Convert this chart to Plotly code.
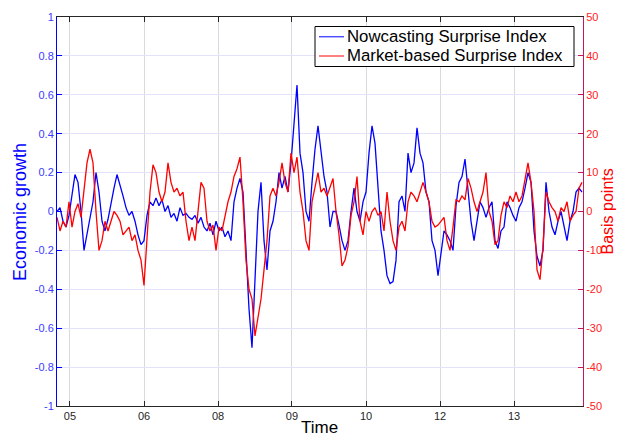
import plotly.graph_objects as go

# Nowcasting Surprise Index (economic growth units), sampled along the time axis
nowcast = [
    0.0, 0.02, -0.05, -0.08, -0.02, 0.1, 0.19, 0.15, 0.0, -0.2,
    -0.12, -0.05, 0.05, 0.2, 0.1, -0.05, -0.1, -0.04, 0.05, 0.12,
    0.19, 0.14, 0.08, 0.02, -0.02, 0.0, -0.05, -0.12, -0.17, -0.15,
    -0.02, 0.05, 0.03, 0.07, 0.03, 0.06, 0.0, 0.03, -0.03, -0.01,
    -0.05, 0.02, -0.02, -0.01, -0.03,
    -0.04, -0.02, -0.06, -0.03, -0.08, -0.1, -0.06, -0.12, -0.05, -0.1,
    -0.08, -0.13, -0.1, -0.15, 0.05, 0.12, 0.17, 0.1, -0.2, -0.5,
    -0.7, -0.35, 0.0, 0.15, -0.15, -0.3, -0.1, -0.05, 0.05, 0.2,
    0.12, 0.18, 0.1, 0.25, 0.45, 0.65, 0.3, 0.2, 0.0, -0.05,
    0.15, 0.32,
    0.44, 0.3, 0.18, 0.1, -0.08, 0.0, 0.0, -0.07, -0.15, -0.2,
    -0.15, 0.0, 0.12, 0.0, -0.05, 0.05, 0.1, 0.3, 0.44, 0.35,
    0.15, -0.1, -0.2, -0.33, -0.37, -0.36, -0.25, 0.05, 0.08, 0.0,
    0.3, 0.2, 0.25, 0.43, 0.3, 0.25, 0.1, 0.05, -0.15, -0.2,
    -0.33, -0.22, -0.1, -0.12,
    -0.15, -0.2, 0.03, 0.15, 0.18, 0.27, 0.1, -0.05, -0.15, -0.05,
    0.05, 0.02, -0.03, 0.02, 0.05, -0.15, -0.19, -0.1, -0.08, 0.05,
    0.02, -0.02, -0.05, 0.02, 0.05, 0.12, 0.2, 0.15, -0.1, -0.23,
    -0.28, -0.2, 0.15, 0.0, -0.08, -0.12, -0.05, 0.0, -0.08, -0.15,
    -0.05, 0.0, 0.1, 0.12, 0.1,
]

# Market-based Surprise Index (basis points)
market = [
    -1.5, -5, -2.5, -4, 2.5, -4, 0, 2, -1.5, 6,
    12.5, 16, 12.5, 0, -10, -7.5, -2.5, -5, -2.5, 0,
    -1, -2.5, -6, -5, -4, -7.5, -6, -10, -12.5, -19,
    -7.5, 5, 12, 10, 5, 2.5, 5, 12.5, 7.5, 5,
    6, 4, 5, -2.5, -7.5,
    -4, -7.5, 1, 7.5, 6, -2.5, -5, -3.5, -10, -4,
    -5, -1, 2.5, 5, 9, 11, 14, 2.5, -12.5, -20,
    -22.5, -32, -27.5, -22.5, -15, -7.5, 4, 6, 4, 7.5,
    12.5, 7.5, 5, 15, 10, 14, 5, 0, -7.5, -10,
    2.5, 6,
    10, 5, 6, 4, 6, 8.5, 0, -6, -14, -12.5,
    -9, -1, 2.5, 9, -2.5, -6, 0, -2.5, 0, 1,
    -1, 0, -5, 5, -2.5, -7.5, -10, -4, -2.5, -5,
    2.5, 5, 4, 2.5, 5, 7.5, 5, 2.5, -2.5, -4,
    -3.5, -2.5, -1.5, -7.5,
    -10, -4, 3, 2.5, 4, 3, 8.5, 6, 2.5, 0,
    2.5, 5, 10, 0, -2.5, -8.5, -7.5, -1, 2.5, 1,
    4, 2.5, 5, 2.5, 4, 8.5, 12.5, 7.5, 0, -15,
    -17.5, -9, 5, 2.5, 1, 0, -2.5, 1, 0, 2.5,
    -2.5, -1, 0, 6, 7.5,
]

series_names = ["Nowcasting Surprise Index", "Market-based Surprise Index"]
series_colors = ["#0000ff", "#ff0000"]

time_idx = list(range(len(nowcast)))

# Time axis ticks (observation index positions) and labels
x_tick_pos = [4.33, 29, 53.67, 78.33, 103, 127.67, 152.33]
x_tick_text = ["05", "06", "08", "09", "10", "12", "13"]
x_range = [0, 175.33]

left_ticks = [1, 0.8, 0.6, 0.4, 0.2, 0, -0.2, -0.4, -0.6, -0.8, -1]
left_text = ["1", "0.8", "0.6", "0.4", "0.2", "0", "-0.2", "-0.4", "-0.6", "-0.8", "-1"]
right_ticks = [50, 40, 30, 20, 10, 0, -10, -20, -30, -40, -50]
right_text = ["50", "40", "30", "20", "10", "0", "-10", "-20", "-30", "-40", "-50"]

FONT = "Liberation Sans, Arial, Helvetica, sans-serif"

# plot-area geometry in pixels (for placing legend box / titles)
W, H = 617, 437
L, R, T, B = 57, 34, 17, 31
PW, PH = W - L - R, H - T - B


def px(xp):
    return (xp - L) / PW


def py(yp):
    return (H - B - yp) / PH


fig = go.Figure()
fig.add_trace(go.Scatter(
    x=time_idx, y=nowcast, mode="lines", name=series_names[0],
    line=dict(color=series_colors[0], width=1.3), yaxis="y", showlegend=False,
))
fig.add_trace(go.Scatter(
    x=time_idx, y=market, mode="lines", name=series_names[1],
    line=dict(color=series_colors[1], width=1.3), yaxis="y2", showlegend=False,
))

shapes = [
    dict(type="rect", xref="paper", yref="paper",
         x0=px(315), x1=px(574), y0=py(66.5), y1=py(26.5),
         line=dict(color="#000000", width=1), fillcolor="white", layer="above"),
]
annotations = []
row_y = [36.8, 56]
for name, color, ry in zip(series_names, series_colors, row_y):
    shapes.append(dict(type="line", xref="paper", yref="paper",
                       x0=px(319), x1=px(344), y0=py(ry), y1=py(ry),
                       line=dict(color=color, width=1), layer="above"))
    annotations.append(dict(
        text=name, xref="paper", yref="paper", x=px(346), y=py(ry - 0.5),
        xanchor="left", yanchor="middle", showarrow=False, borderpad=0,
        font=dict(family=FONT, size=16.8, color="#000000"),
    ))

annotations += [
    dict(text="Economic growth", xref="paper", yref="paper",
         x=px(20), y=py(212), xanchor="center", yanchor="middle",
         textangle=-90, showarrow=False, borderpad=0,
         font=dict(family=FONT, size=18, color="#0000ff")),
    dict(text="Basis points", xref="paper", yref="paper",
         x=px(607.5), y=py(212), xanchor="center", yanchor="middle",
         textangle=-90, showarrow=False, borderpad=0,
         font=dict(family=FONT, size=16, color="#ff0000")),
    dict(text="Time", xref="paper", yref="paper",
         x=px(319), y=py(428), xanchor="center", yanchor="middle",
         showarrow=False, borderpad=0,
         font=dict(family=FONT, size=17, color="#000000")),
]

fig.update_layout(
    width=W, height=H,
    margin=dict(l=L, r=R, t=T, b=B, autoexpand=False),
    paper_bgcolor="white", plot_bgcolor="white",
    font=dict(family=FONT, size=11, color="#262626"),
    showlegend=False,
    shapes=shapes,
    annotations=annotations,
    xaxis=dict(
        range=x_range, tickvals=x_tick_pos, ticktext=x_tick_text,
        showgrid=True, gridcolor="#d9d9e0", gridwidth=1,
        ticks="inside", ticklen=5, tickcolor="#262626",
        showline=True, linecolor="#262626", linewidth=1, mirror="ticks",
        zeroline=False, automargin=False,
        tickfont=dict(size=11, color="#262626"),
    ),
    yaxis=dict(
        range=[-1, 1], tickvals=left_ticks, ticktext=left_text,
        showgrid=True, gridcolor="#e2e2fb", gridwidth=1,
        ticks="inside", ticklen=5, tickcolor="#0000ff",
        showline=True, linecolor="#0000ff", linewidth=1,
        zeroline=False, automargin=False,
        tickfont=dict(size=11, color="#3a3aff"),
    ),
    yaxis2=dict(
        range=[-50, 50], tickvals=right_ticks, ticktext=right_text,
        overlaying="y", side="right", anchor="x",
        showgrid=False,
        ticks="inside", ticklen=5, tickcolor="#c0185a",
        showline=True, linecolor="#c0185a", linewidth=1,
        zeroline=False, automargin=False,
        tickfont=dict(size=11, color="#ff2020"),
    ),
)

fig.write_html(
    "out.html",
    config={"displayModeBar": False},
    post_script="document.body.style.margin='0';document.body.style.overflow='hidden';",
)
